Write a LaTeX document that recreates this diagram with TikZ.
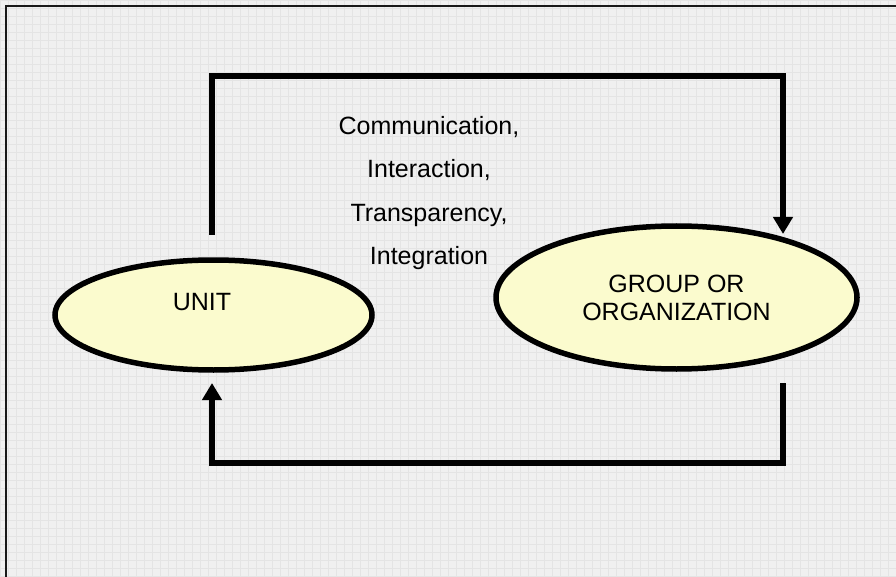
\documentclass[tikz,border=0pt]{standalone}
\usepackage{fontspec}
\setmainfont{Liberation Sans}
\usetikzlibrary{arrows.meta,shapes.geometric}

\definecolor{paper}{RGB}{240,240,240}
\definecolor{paperline}{RGB}{228,228,228}
\definecolor{pale}{RGB}{251,251,206}

\tikzset{
  bubble/.style={ellipse, draw=black, line width=5.5pt, fill=pale, inner sep=0pt,
    font=\fontsize{25}{28}\selectfont, align=center},
  flow/.style={line width=5.5pt, draw=black, line join=miter,
    -{Triangle[width=19pt,length=17pt]}},
  caption/.style={font=\fontsize{25}{43.3}\selectfont, align=center, inner sep=0pt},
}

\begin{document}
\begin{tikzpicture}[x=1pt, y=-1pt]
  % page background with its faint grid
  \useasboundingbox (0,0) rectangle (896,577);
  \fill[paper] (0,0) rectangle (896,577);
  \draw[paperline, line width=0.4pt, step=8pt] (0,0) grid (896,577);
  % frame (open towards right and bottom)
  \draw[black!90, line width=2.2pt] (6,580) -- (6,6) -- (900,6);

  % the two parties
  \node[bubble, minimum width=317pt, minimum height=110pt,
        label={[font=\fontsize{25}{28}\selectfont, xshift=-11.5pt, yshift=13pt]center:UNIT}]
        (unit) at (213.5,315) {};
  \node[bubble, minimum width=361pt, minimum height=143pt]
        (group) at (676.5,297.5) {GROUP OR\\ORGANIZATION};

  % what flows between them
  \node[caption] (flowtext) at (429,193)
        {Communication,\\Interaction,\\Transparency,\\Integration};

  % connector ends
  \coordinate (topstart) at (212,235);
  \coordinate (toptip)   at (783,234);
  \coordinate (botstart) at (783,383);
  \coordinate (bottip)   at (212,383);

  \draw[flow] (topstart) -- ++(0,-159) -| (toptip);
  \draw[flow] (botstart) -- ++(0,80) -| (bottip);
\end{tikzpicture}
\end{document}
